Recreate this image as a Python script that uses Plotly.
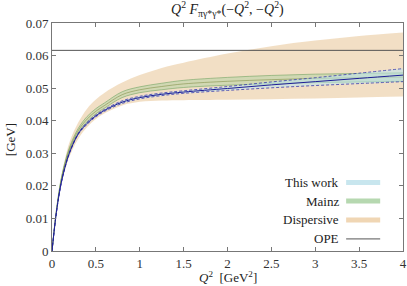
import plotly.graph_objects as go

# ---------------- data ----------------
q2 = [0, 0.05, 0.1, 0.15, 0.2, 0.3, 0.4, 0.5, 0.6, 0.8, 1.0, 1.25, 1.5, 2.0, 2.5, 3.0, 3.5, 4.0]

thiswork_c = [0, 0.0118, 0.0202, 0.0259, 0.0302, 0.0360, 0.0392, 0.0415, 0.0432, 0.0457, 0.0471, 0.0481, 0.0488, 0.0499, 0.0510, 0.0520, 0.0530, 0.0540]
thiswork_lo = [0, 0.0117, 0.0201, 0.0257, 0.0300, 0.0358, 0.0389, 0.0412, 0.0429, 0.0453, 0.0467, 0.0477, 0.0484, 0.0493, 0.0501, 0.0508, 0.0514, 0.0520]
thiswork_hi = [0, 0.0119, 0.0203, 0.0261, 0.0304, 0.0362, 0.0395, 0.0418, 0.0435, 0.0461, 0.0475, 0.0485, 0.0492, 0.0505, 0.0519, 0.0532, 0.0546, 0.0560]

mainz_c = [0, 0.0123, 0.0212, 0.0270, 0.0313, 0.0370, 0.0405, 0.0429, 0.0447, 0.0480, 0.0495, 0.0505, 0.0513, 0.0521, 0.0526, 0.0530, 0.0532, 0.0534]
mainz_lo = [0, 0.0121, 0.0208, 0.0265, 0.0307, 0.0363, 0.0397, 0.0421, 0.0439, 0.0471, 0.0486, 0.0495, 0.0502, 0.0509, 0.0513, 0.0517, 0.0519, 0.0521]
mainz_hi = [0, 0.0125, 0.0216, 0.0275, 0.0319, 0.0377, 0.0413, 0.0437, 0.0455, 0.0489, 0.0504, 0.0515, 0.0524, 0.0533, 0.0539, 0.0543, 0.0545, 0.0547]

disp_lo = [0, 0.0115, 0.0198, 0.0250, 0.0290, 0.0345, 0.0380, 0.0405, 0.0423, 0.0447, 0.0458, 0.0462, 0.0463, 0.0464, 0.0466, 0.0468, 0.0471, 0.0474]
disp_hi = [0, 0.0125, 0.0218, 0.0285, 0.0335, 0.0395, 0.0437, 0.0465, 0.0486, 0.0517, 0.0540, 0.0562, 0.0578, 0.0606, 0.0629, 0.0646, 0.0660, 0.0671]

ope_x = [0, 4]
ope_value = 0.0616

legend_labels = ["This work", "Mainz", "Dispersive", "OPE"]
x_ticks = [0, 0.5, 1, 1.5, 2, 2.5, 3, 3.5, 4]
x_ticklabels = ["0", "0.5", "1", "1.5", "2", "2.5", "3", "3.5", "4"]
y_ticks = [0, 0.01, 0.02, 0.03, 0.04, 0.05, 0.06, 0.07]
y_ticklabels = ["0", "0.01", "0.02", "0.03", "0.04", "0.05", "0.06", "0.07"]

# ---------------- styles ----------------
FONT = "Liberation Serif"
FS = 13
TXT = "#222222"
tan_fill = "rgba(232,196,150,0.55)"
green_fill = "rgba(165,208,155,0.42)"
green_edge = "rgba(90,150,80,0.7)"
green_mid = "rgba(120,135,60,0.75)"
blue_fill = "rgba(185,228,238,0.55)"
blue_edge = "rgba(40,40,170,0.9)"
blue_mid = "rgb(30,30,150)"
SH = "spline"

fig = go.Figure()

# Dispersive band
fig.add_trace(go.Scatter(x=q2, y=disp_lo, mode="lines", line=dict(width=0, shape=SH),
                         showlegend=False, hoverinfo="skip"))
fig.add_trace(go.Scatter(x=q2, y=disp_hi, mode="lines", line=dict(width=0, shape=SH),
                         fill="tonexty", fillcolor=tan_fill, showlegend=False, hoverinfo="skip"))

# Mainz band
fig.add_trace(go.Scatter(x=q2, y=mainz_lo, mode="lines", line=dict(width=0.7, color=green_edge, shape=SH),
                         showlegend=False, hoverinfo="skip"))
fig.add_trace(go.Scatter(x=q2, y=mainz_hi, mode="lines", line=dict(width=0.7, color=green_edge, shape=SH),
                         fill="tonexty", fillcolor=green_fill, showlegend=False, hoverinfo="skip"))
fig.add_trace(go.Scatter(x=q2, y=mainz_c, mode="lines", line=dict(width=0.7, color=green_mid, shape=SH),
                         showlegend=False, hoverinfo="skip"))

# This work band
fig.add_trace(go.Scatter(x=q2, y=thiswork_lo, mode="lines",
                         line=dict(width=0.8, color=blue_edge, dash="3px,2px", shape=SH),
                         showlegend=False, hoverinfo="skip"))
fig.add_trace(go.Scatter(x=q2, y=thiswork_hi, mode="lines",
                         line=dict(width=0.8, color=blue_edge, dash="3px,2px", shape=SH),
                         fill="tonexty", fillcolor=blue_fill, showlegend=False, hoverinfo="skip"))
fig.add_trace(go.Scatter(x=q2, y=thiswork_c, mode="lines", line=dict(width=1, color=blue_mid, shape=SH),
                         showlegend=False, hoverinfo="skip"))

# OPE
fig.add_trace(go.Scatter(x=ope_x, y=[ope_value, ope_value], mode="lines",
                         line=dict(width=1, color="#555555"), showlegend=False, hoverinfo="skip"))

# ---------------- custom legend (bottom right, text left of key) ----------------
leg_colors = ["rgb(200,230,238)", "rgb(182,216,176)", "rgb(240,214,180)", None]
leg_y = [0.300, 0.219, 0.136, 0.053]  # paper fractions of plot area
shapes = []
annotations = []
for lab, col, yy in zip(legend_labels, leg_colors, leg_y):
    annotations.append(dict(x=0.823, y=yy, xref="paper", yref="paper", text=lab, showarrow=False,
                            xanchor="right", yanchor="middle",
                            font=dict(family=FONT, size=FS, color=TXT)))
    if col is not None:
        shapes.append(dict(type="rect", xref="paper", yref="paper", x0=0.838, x1=0.935,
                           y0=yy - 0.011, y1=yy + 0.011, fillcolor=col, line=dict(width=0)))
    else:
        shapes.append(dict(type="line", xref="paper", yref="paper", x0=0.838, x1=0.935,
                           y0=yy, y1=yy, line=dict(width=1, color="#555555")))

# axis titles and plot title as annotations for exact placement
annotations.append(dict(x=0.5, y=-0.112, xref="paper", yref="paper",
                        text="<i>Q</i><sup>2</sup>  [GeV<sup>2</sup>]", showarrow=False,
                        xanchor="center", yanchor="middle", font=dict(family=FONT, size=FS, color=TXT)))
annotations.append(dict(x=-0.12, y=0.49, xref="paper", yref="paper", text="[GeV]", textangle=-90,
                        showarrow=False, xanchor="center", yanchor="middle",
                        font=dict(family=FONT, size=FS, color=TXT)))
annotations.append(dict(x=0.5, y=1.06, xref="paper", yref="paper",
                        text="<i>Q</i><sup>2</sup> <i>F</i><sub>πγ*γ*</sub>(−<i>Q</i><sup>2</sup>, −<i>Q</i><sup>2</sup>)",
                        showarrow=False, xanchor="center", yanchor="middle",
                        font=dict(family=FONT, size=14, color=TXT)))

axis_common = dict(showline=True, linecolor="#777777", linewidth=1, mirror="ticks",
                   ticks="inside", ticklen=4, tickcolor="#777777", showgrid=False, zeroline=False,
                   automargin=False, tickfont=dict(family=FONT, size=FS, color="#333333"))

fig.update_layout(
    width=407, height=286,
    margin=dict(l=52, r=4, t=23, b=35, autoexpand=False),
    paper_bgcolor="white", plot_bgcolor="white",
    showlegend=False,
    xaxis=dict(range=[0, 4], tickvals=x_ticks, ticktext=x_ticklabels, **axis_common),
    yaxis=dict(range=[0, 0.07], tickvals=y_ticks, ticktext=y_ticklabels, **axis_common),
    shapes=shapes, annotations=annotations,
)

fig.write_html("out.html", config={"displayModeBar": False},
               post_script="document.body.style.margin='0';document.body.style.overflow='hidden';")
